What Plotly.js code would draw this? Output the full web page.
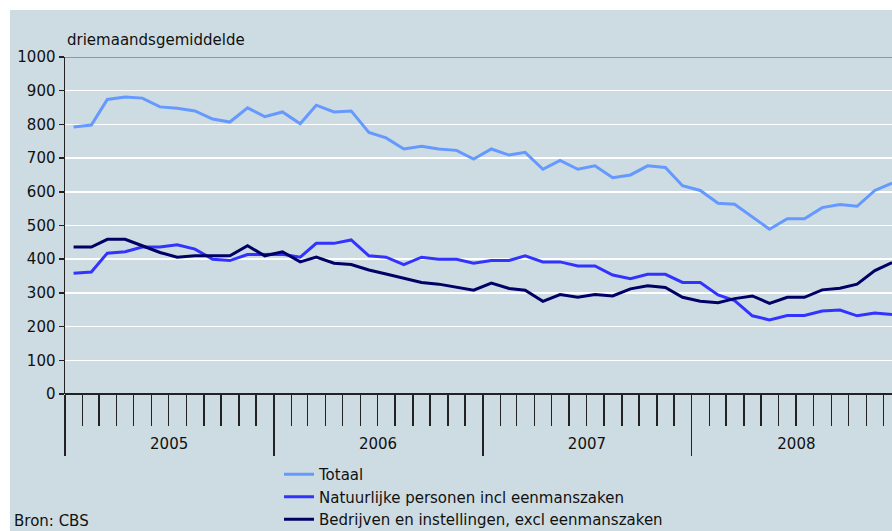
<!DOCTYPE html>
<html>
<head>
<meta charset="utf-8">
<script src="https://cdn.plot.ly/plotly-3.0.1.min.js"></script>
<style>html,body{margin:0;padding:0;background:#fff;}#chart{width:892px;height:531px;}</style>
</head>
<body>
<div id="chart"></div>
<script>
// Maandelijkse reeks jan 2005 - dec 2008 (driemaandsgemiddelde)
const years = [2005, 2006, 2007, 2008];
const yearLabels = ['2005', '2006', '2007', '2008'];
const seriesNames = ['Totaal', 'Natuurlijke personen incl eenmanszaken', 'Bedrijven en instellingen, excl eenmanszaken'];

const totaal = [792, 798, 874, 881, 878, 852, 848, 840, 816, 807, 849, 823,
                837, 802, 857, 837, 840, 776, 760, 727, 735, 727, 723, 697,
                727, 709, 717, 667, 693, 667, 677, 642, 650, 677, 672, 618,
                604, 566, 563, 524, 489, 520, 520, 553, 562, 557, 604, 626];
const natuurlijk = [358, 362, 418, 422, 436, 436, 443, 430, 400, 396, 414, 414,
                    415, 406, 447, 447, 457, 410, 406, 384, 406, 400, 400, 388,
                    396, 396, 410, 392, 392, 380, 380, 353, 342, 355, 355, 331,
                    331, 294, 277, 232, 220, 233, 233, 246, 249, 232, 240, 236];
const bedrijven = [436, 436, 459, 459, 440, 420, 406, 410, 410, 410, 440, 410,
                   422, 392, 406, 388, 384, 368, 356, 344, 331, 326, 317, 308,
                   329, 313, 308, 275, 295, 287, 295, 291, 312, 321, 316, 287,
                   275, 271, 283, 291, 269, 287, 287, 309, 314, 326, 366, 390];
const colors = ['#6699ff', '#3333ff', '#000066'];

const months = [];
years.forEach(y => { for (let m = 1; m <= 12; m++) months.push(y + '-' + String(m).padStart(2, '0') + '-16'); });
const yearMid = years.map(y => y + '-07-02');

const FONT = 'DejaVu Sans, Verdana, sans-serif';
const seriesVals = [totaal, natuurlijk, bedrijven];
const traces = seriesVals.map((v, i) => ({
  type: 'scatter', mode: 'lines', name: seriesNames[i], x: months, y: v,
  line: {color: colors[i], width: 3}, xaxis: 'x', yaxis: 'y'
}));
traces.push({type: 'scatter', mode: 'lines', x: [], y: [], xaxis: 'x2', yaxis: 'y', showlegend: false, hoverinfo: 'skip'});

const xRange = ['2005-01-01', '2008-12-16'];
const H = 373, bottomPx = 430;
const layout = {
  width: 892, height: 531,
  margin: {l: 65, r: 0, t: 57, b: 101, autoexpand: false},
  paper_bgcolor: '#ffffff', plot_bgcolor: 'rgba(0,0,0,0)',
  font: {family: FONT, size: 15, color: '#111'},
  showlegend: true,
  xaxis: {
    type: 'date', range: xRange, anchor: 'y', automargin: false,
    tick0: '2005-01-01', dtick: 'M12', ticks: 'outside', ticklen: 61, tickwidth: 1.5, tickcolor: '#222',
    showticklabels: false, showgrid: false, zeroline: false, showline: false,
    minor: {dtick: 'M1', tick0: '2005-01-01', ticks: 'outside', ticklen: 31, tickwidth: 1.5, tickcolor: '#222', showgrid: false}
  },
  xaxis2: {
    type: 'date', range: xRange, overlaying: 'x', anchor: 'free', position: 0, side: 'bottom', automargin: false,
    tickmode: 'array', tickvals: yearMid, ticktext: yearLabels, ticks: '', showgrid: false, ticklabelstandoff: 3,
    zeroline: false, showline: false, tickfont: {family: FONT, size: 15, color: '#111'}
  },
  yaxis: {
    domain: [(bottomPx - 394) / H, 1], range: [0, 1000], dtick: 100, tick0: 0, automargin: false,
    ticks: 'outside', ticklen: 5, tickwidth: 1.5, tickcolor: '#222',
    showgrid: true, gridcolor: '#ffffff', gridwidth: 1.5,
    zeroline: true, zerolinecolor: '#222', zerolinewidth: 1.5,
    showline: true, linecolor: '#222', linewidth: 1.5,
    tickfont: {family: FONT, size: 15, color: '#111'}
  },
  legend: {
    x: (279 - 65) / 827, xanchor: 'left', y: (bottomPx - 458) / H, yanchor: 'top',
    bgcolor: 'rgba(0,0,0,0)', font: {family: FONT, size: 15, color: '#111'},
    itemwidth: 30, traceorder: 'normal'
  },
  shapes: [
    {type: 'rect', layer: 'below', xref: 'paper', yref: 'paper',
     x0: (10 - 65) / 827, x1: 1.05, y0: -0.5, y1: (bottomPx - 10) / H,
     fillcolor: '#cddce2', line: {width: 0}},
    {type: 'line', layer: 'above', xref: 'paper', yref: 'y', x0: 0, x1: 1, y0: 1000, y1: 1000,
     line: {color: '#7f7f7f', width: 1.5}}
  ],
  annotations: [
    {text: 'driemaandsgemiddelde', xref: 'paper', yref: 'paper', x: 0, y: 1, xanchor: 'left', yanchor: 'middle',
     xshift: 0, yshift: 17, showarrow: false, font: {family: FONT, size: 15, color: '#111'}},
    {text: 'Bron: CBS', xref: 'paper', yref: 'paper', x: (12 - 65) / 827, y: (bottomPx - 521) / H,
     xanchor: 'left', yanchor: 'middle', showarrow: false, font: {family: FONT, size: 15, color: '#111'}}
  ]
};

Plotly.newPlot('chart', traces, layout, {displayModeBar: false, staticPlot: true});
</script>
</body>
</html>
